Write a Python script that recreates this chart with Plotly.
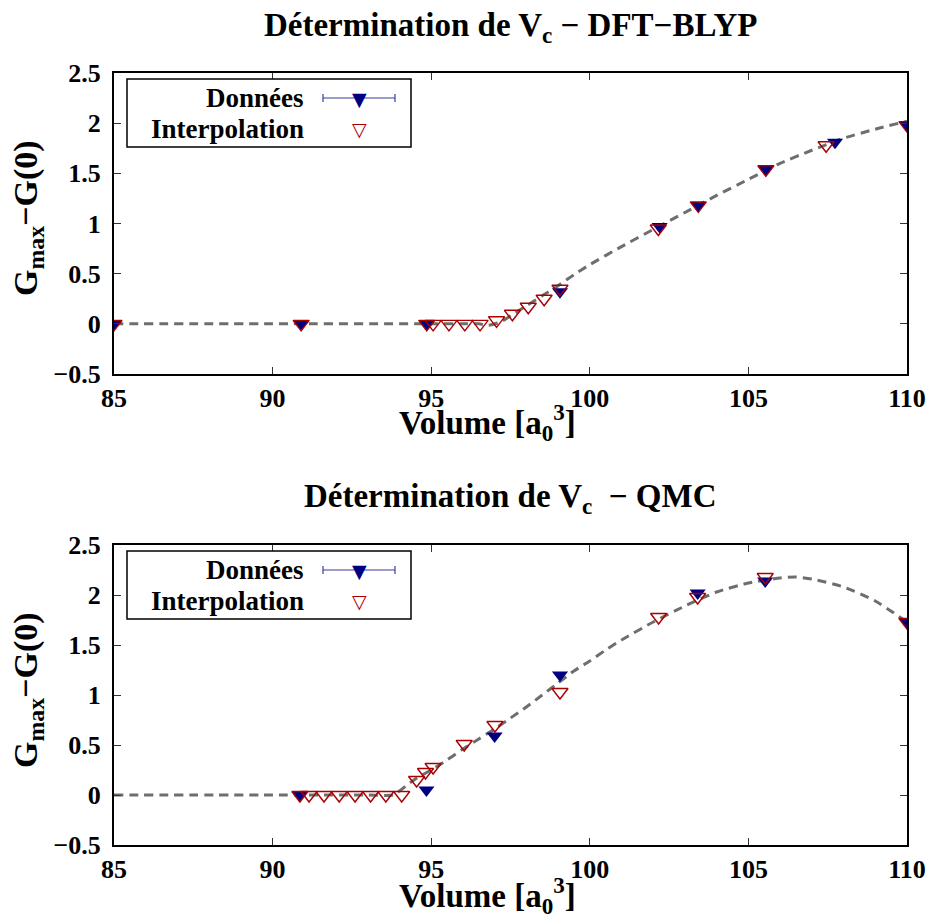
import plotly.graph_objects as go

# ---------------- data ----------------
# DFT-BLYP
dft_data_x = [85.0, 90.9, 94.86, 99.06, 102.2, 103.42, 105.55, 107.73, 110.0]
dft_data_y = [0.0, 0.0, 0.0, 0.32, 0.97, 1.18, 1.54, 1.81, 1.98]
dft_interp_x = [85.0, 90.9, 94.86, 95.06, 95.56, 96.06, 96.54, 97.06, 97.56, 98.06,
                98.56, 99.06, 102.16, 103.42, 105.55, 107.45, 110.0]
dft_interp_y = [0.0, 0.0, 0.0, 0.0, 0.0, 0.0, 0.0, 0.035, 0.10, 0.17,
                0.25, 0.35, 0.95, 1.18, 1.54, 1.78, 1.98]
dft_curve_x = [85.0, 90.0, 95.0, 96.0, 96.5, 96.8, 97.2, 97.6, 98.0, 98.5, 99.0, 99.5,
               100.0, 101.0, 102.0, 103.0, 104.0, 105.0, 106.0, 107.0, 108.0, 109.0, 110.0]
dft_curve_y = [0.0, 0.0, 0.0, 0.0, 0.0, -0.015, 0.02, 0.10, 0.18, 0.28, 0.38, 0.49,
               0.59, 0.77, 0.94, 1.11, 1.28, 1.44, 1.60, 1.73, 1.85, 1.94, 2.02]

# QMC
qmc_data_x = [90.86, 94.85, 97.0, 99.06, 103.4, 105.53, 110.0]
qmc_data_y = [0.0, 0.05, 0.59, 1.20, 2.02, 2.14, 1.73]
qmc_interp_x = [90.86, 91.15, 91.62, 92.1, 92.6, 93.09, 93.57, 94.07, 94.54, 94.82,
                95.06, 96.04, 97.01, 99.06, 102.17, 103.4, 105.53, 110.0]
qmc_interp_y = [0.0, 0.0, 0.0, 0.0, 0.0, 0.0, 0.0, 0.0, 0.15, 0.23,
                0.28, 0.51, 0.70, 1.03, 1.78, 1.98, 2.18, 1.73]
qmc_curve_x = [85.0, 90.0, 93.0, 93.8, 94.2, 94.5, 95.0, 95.5, 96.0, 96.5, 97.0, 97.5,
               98.0, 98.5, 99.0, 99.5, 100.0, 100.5, 101.0, 102.0, 103.0, 104.0, 105.0,
               106.0, 106.5, 107.0, 108.0, 109.0, 110.0]
qmc_curve_y = [0.0, 0.0, 0.0, 0.0, 0.09, 0.16, 0.25, 0.35, 0.46, 0.56, 0.66, 0.77,
               0.88, 1.00, 1.12, 1.24, 1.34, 1.45, 1.55, 1.73, 1.89, 2.03, 2.12,
               2.17, 2.18, 2.16, 2.08, 1.94, 1.73]

x_ticks = [85, 90, 95, 100, 105, 110]
y_ticks = [-0.5, 0, 0.5, 1, 1.5, 2, 2.5]

titles = ["Détermination de V<sub>c</sub> − DFT−BLYP", "Détermination de V<sub>c</sub>  − QMC"]
x_label = "Volume [a<sub>0</sub><sup>3</sup>]"
y_label = "G<sub>max</sub>−G(0)"
legend_labels = ["Données", "Interpolation"]

# ---------------- styles ----------------
W, H = 932, 917
L, R, T, B = 114, 907, 73, 845    # plot area in page pixels
FONT = "Liberation Serif"
NAVY = "#000080"
RED = "#aa0000"
CURVE = "#6e6e6e"


def px(xp):
    return (xp - L) / (R - L)


def py(yp):
    return (B - yp) / (B - T)


fig = go.Figure()

sets = [
    (dft_curve_x, dft_curve_y, dft_data_x, dft_data_y, dft_interp_x, dft_interp_y, "x", "y"),
    (qmc_curve_x, qmc_curve_y, qmc_data_x, qmc_data_y, qmc_interp_x, qmc_interp_y, "x2", "y2"),
]
for cx, cy, dx, dy, ix, iy, xa, ya in sets:
    fig.add_trace(go.Scatter(x=cx, y=cy, mode="lines", xaxis=xa, yaxis=ya,
                             line=dict(color=CURVE, width=3, dash="9px,6px", shape="spline", smoothing=0.6),
                             showlegend=False, hoverinfo="skip"))
    fig.add_trace(go.Scatter(x=dx, y=dy, mode="markers", xaxis=xa, yaxis=ya, name=legend_labels[0],
                             marker=dict(symbol="triangle-down", size=14, color=NAVY,
                                         line=dict(width=0)),
                             showlegend=False))
    fig.add_trace(go.Scatter(x=ix, y=iy, mode="markers", xaxis=xa, yaxis=ya, name=legend_labels[1],
                             marker=dict(symbol="triangle-down-open", size=14, color=RED,
                                         line=dict(width=1.4, color=RED)),
                             showlegend=False))

axis_common = dict(
    showline=True, linecolor="black", linewidth=2, mirror="allticks",
    ticks="inside", ticklen=7, tickwidth=1, tickcolor="#333333",
    showgrid=False, zeroline=False, automargin=False,
    tickfont=dict(family=FONT, size=26, color="black", weight="bold"),
)

top_dom = [py(374), 1.0]
bot_dom = [0.0, py(545)]

fig.update_layout(
    width=W, height=H,
    margin=dict(l=L, r=W - R, t=T, b=H - B, autoexpand=False),
    paper_bgcolor="white", plot_bgcolor="white",
    xaxis=dict(domain=[0, 1], range=[85, 110], tickvals=x_ticks, anchor="y",
               ticklabeloverflow="allow", **axis_common),
    yaxis=dict(domain=top_dom, range=[-0.5, 2.5], tickvals=y_ticks, anchor="x",
               ticklabelstandoff=6, **axis_common),
    xaxis2=dict(domain=[0, 1], range=[85, 110], tickvals=x_ticks, anchor="y2",
                ticklabeloverflow="allow", **axis_common),
    yaxis2=dict(domain=bot_dom, range=[-0.5, 2.5], tickvals=y_ticks, anchor="x2",
                ticklabelstandoff=6, **axis_common),
    showlegend=False,
)

ann = []
shapes = []
bold = lambda s: dict(family=FONT, size=s, color="black", weight="bold")

for k, off in enumerate([0, 472]):
    # title
    ann.append(dict(text=titles[k], x=0.5, y=py(27 + off), xref="paper", yref="paper",
                    xanchor="center", yanchor="middle", showarrow=False, font=bold(33)))
    # x label
    ann.append(dict(text=x_label, x=px(487), y=py(423 + off), xref="paper", yref="paper",
                    xanchor="center", yanchor="middle", showarrow=False, font=bold(33)))
    # y label
    ann.append(dict(text=y_label, x=px(28), y=py(218 + off), xref="paper", yref="paper",
                    xanchor="center", yanchor="middle", showarrow=False, textangle=-90,
                    font=bold(34)))
    # legend box
    shapes.append(dict(type="rect", xref="paper", yref="paper",
                       x0=px(127), x1=px(411), y0=py(147 + off), y1=py(79 + off),
                       line=dict(color="black", width=1.5), fillcolor="white", layer="above"))
    ann.append(dict(text=legend_labels[0], x=px(306), y=py(98 + off), xref="paper", yref="paper",
                    xanchor="right", yanchor="middle", showarrow=False, font=bold(27)))
    ann.append(dict(text=legend_labels[1], x=px(306), y=py(129 + off), xref="paper", yref="paper",
                    xanchor="right", yanchor="middle", showarrow=False, font=bold(27)))
    # errorbar sample
    shapes.append(dict(type="line", xref="paper", yref="paper", x0=px(323), x1=px(395),
                       y0=py(98 + off), y1=py(98 + off), line=dict(color="#3a3aa0", width=1.2),
                       layer="above"))
    for xe in (323, 395):
        shapes.append(dict(type="line", xref="paper", yref="paper", x0=px(xe), x1=px(xe),
                           y0=py(94 + off), y1=py(102 + off), line=dict(color="#3a3aa0", width=1.2),
                           layer="above"))
    ann.append(dict(text="▼", x=px(359), y=py(99 + off), xref="paper", yref="paper",
                    xanchor="center", yanchor="middle", showarrow=False,
                    font=dict(family="DejaVu Sans", size=19, color=NAVY)))
    ann.append(dict(text="▽", x=px(359), y=py(129 + off), xref="paper", yref="paper",
                    xanchor="center", yanchor="middle", showarrow=False,
                    font=dict(family="DejaVu Sans", size=19, color=RED)))

fig.update_layout(annotations=ann, shapes=shapes)
fig.write_html("out.html", config={"displayModeBar": False},
               post_script="document.body.style.margin='0';document.body.style.overflow='hidden';")
